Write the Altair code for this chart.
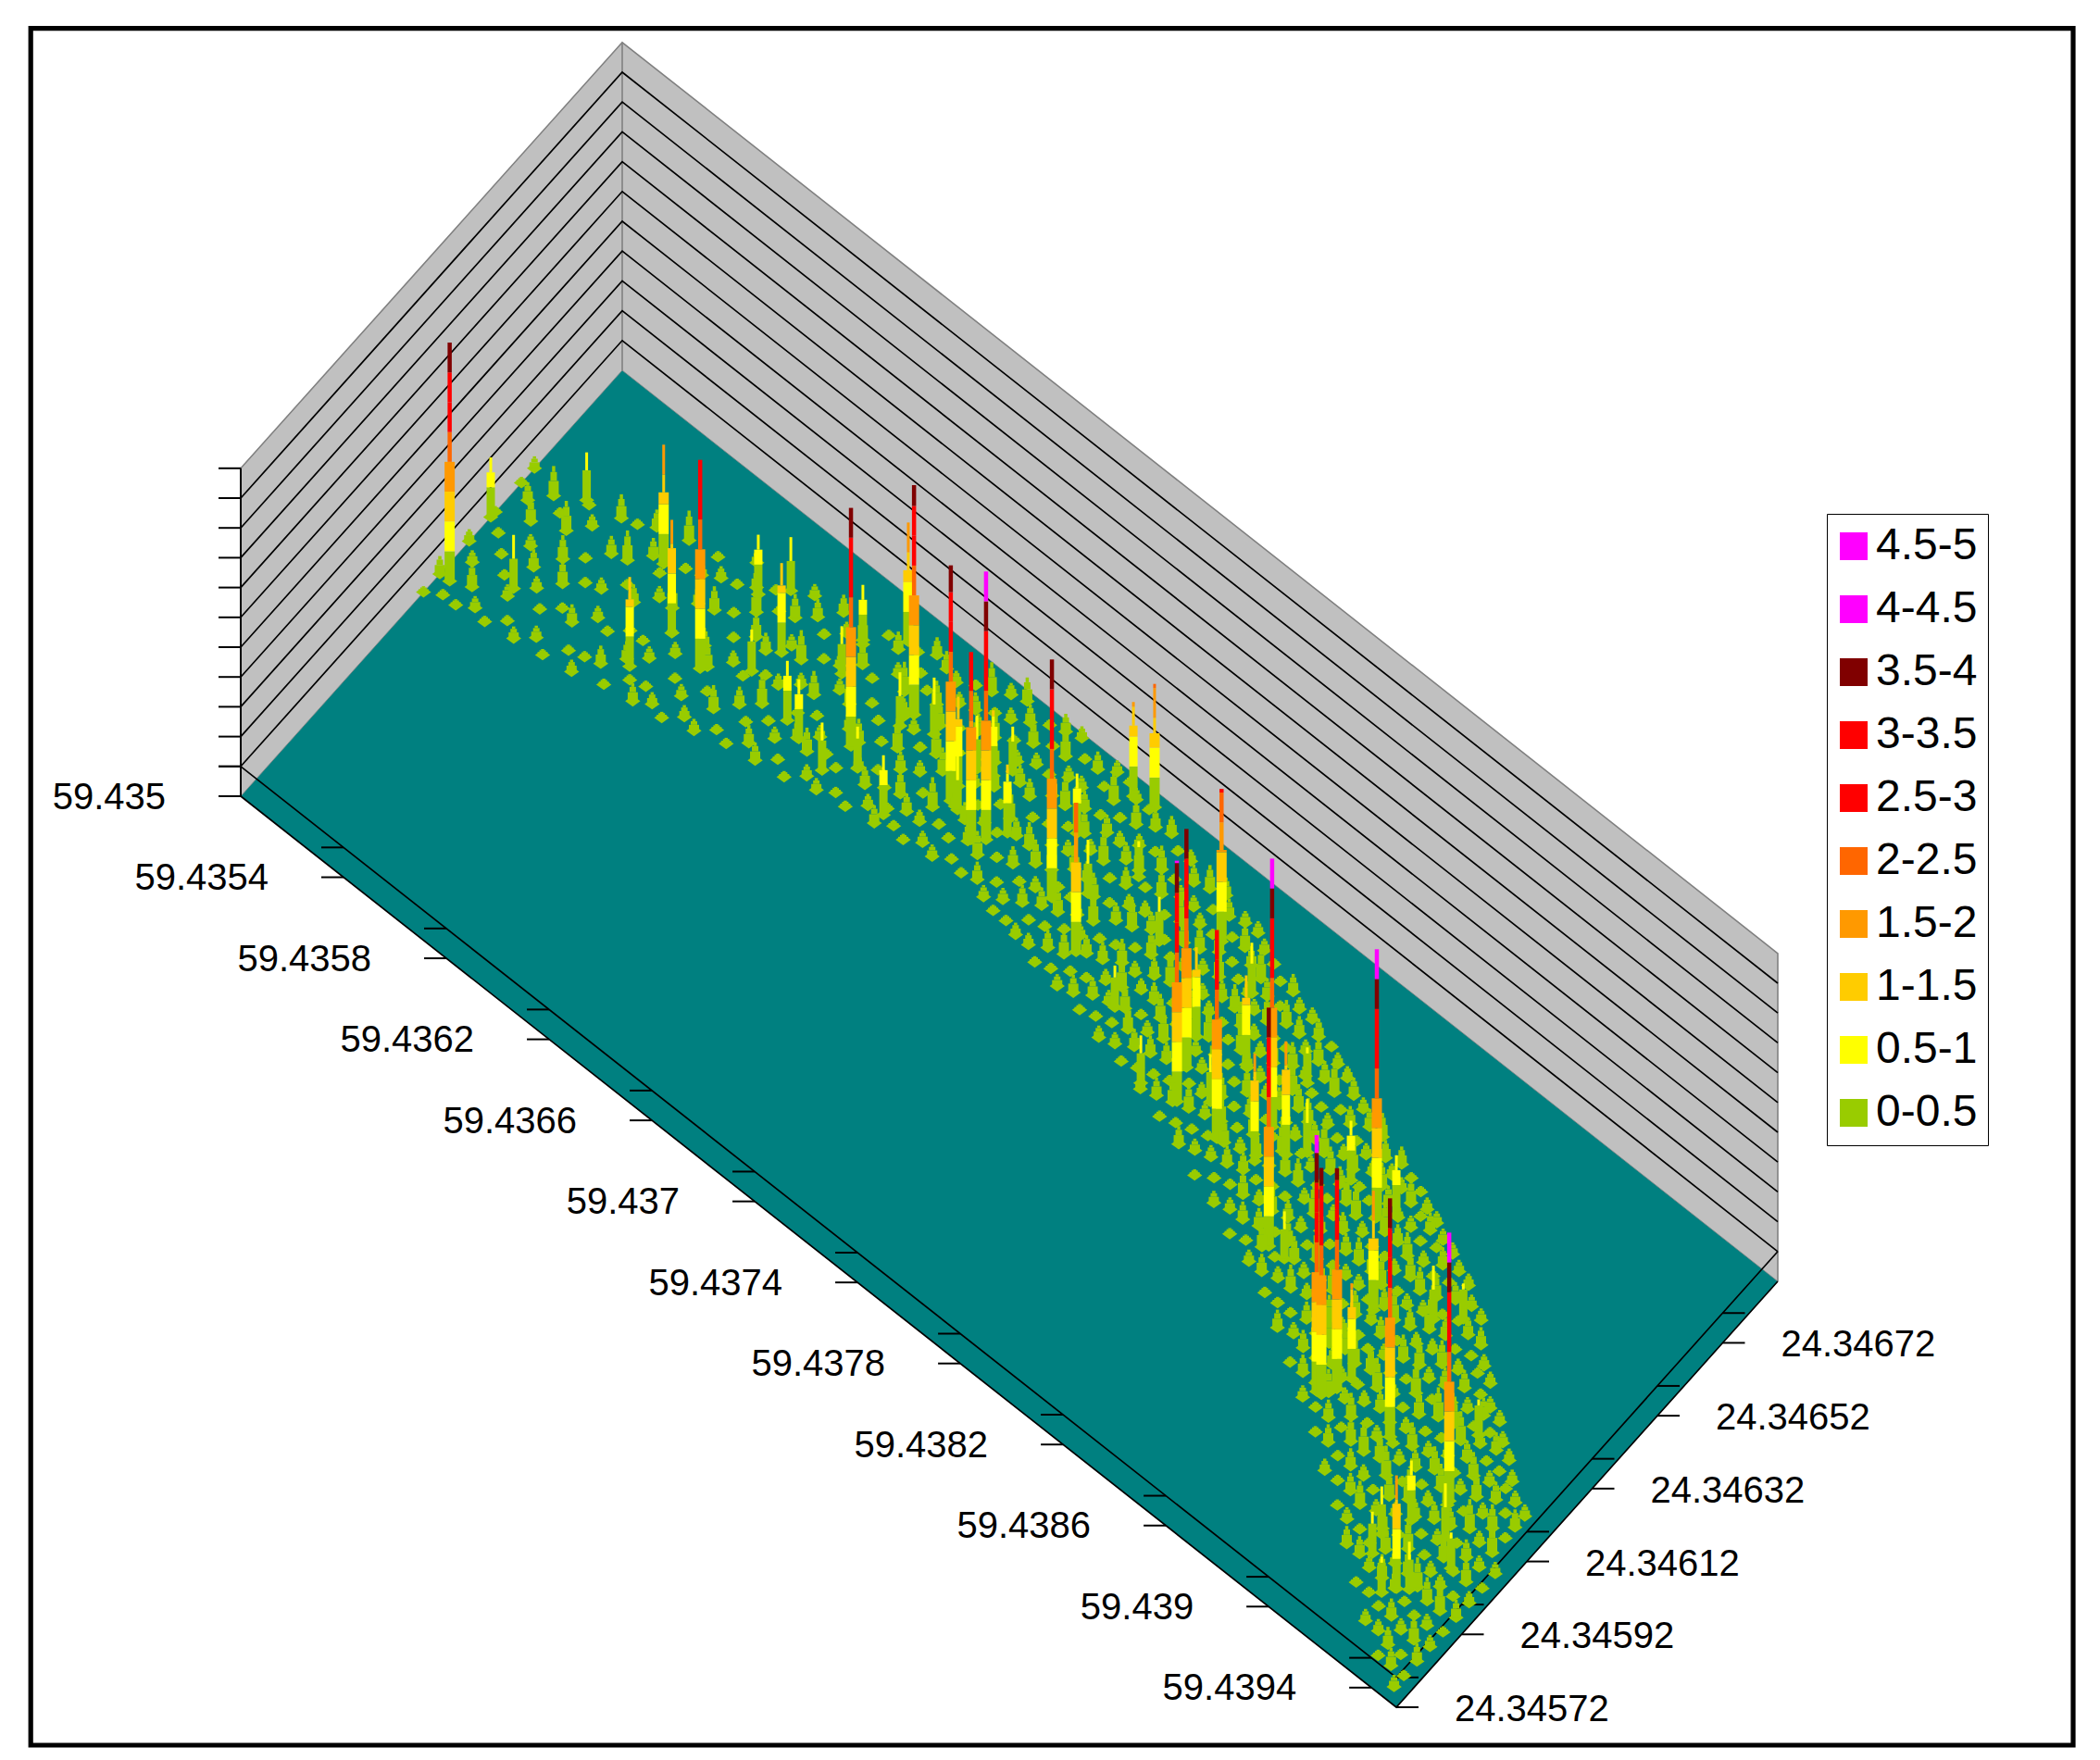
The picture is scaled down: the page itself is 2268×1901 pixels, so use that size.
import altair as alt
import pandas as pd

# ---- axis values
LAT_TICKS = [59.435, 59.4354, 59.4358, 59.4362, 59.4366, 59.437, 59.4374, 59.4378, 59.4382, 59.4386, 59.439, 59.4394]
LAT_LABELS = ["59.435", "59.4354", "59.4358", "59.4362", "59.4366", "59.437", "59.4374", "59.4378", "59.4382", "59.4386", "59.439", "59.4394"]
LON_TICKS = [24.34572, 24.34592, 24.34612, 24.34632, 24.34652, 24.34672]
LON_LABELS = ["24.34572", "24.34592", "24.34612", "24.34632", "24.34652", "24.34672"]
Z_LEVELS = [0, 0.5, 1, 1.5, 2, 2.5, 3, 3.5, 4, 4.5, 5, 5.5]

# ---- legend classes, top to bottom
BANDS = ["4.5-5", "4-4.5", "3.5-4", "3-3.5", "2.5-3", "2-2.5", "1.5-2", "1-1.5", "0.5-1", "0-0.5"]
BAND_COLORS = ["#FF00FF", "#FF00FF", "#800000", "#FF0000", "#FF0000", "#FF6600", "#FF9900", "#FFCC00", "#FFFF00", "#99CC00"]

# ---- tall readings: latitude above 59.435 (1e-4 deg), longitude above 24.34572 (1e-5 deg), value
spike_lat = [0.37, 0, 4.90, 7.87, 12.90, 13.69, 12.07, 6.22, 6.50, 1.98, 9.40, 7.68, 8.35, 10.92, 11.56, 12.73, 11.09, 11.21, 13.50, 1.84, 9.10,
             15.04, 13.60, 14.55, 16.29, 17.89, 17.55, 16.16, 16.63, 16.75, 16.24, 18.24, 17.10, 20.58, 19.83, 22.23, 21.31, 20.36, 21.07, 22.13, 23.92,
             27.59, 27.11, 26.71, 29.26, 25.34, 27.09, 28.42, 30.28, 32.64, 34.52, 31.16, 30.58, 30.19, 26.39, 24.25, 28.36, 31.61,
             36.70, 36.87, 37.11, 33.17, 36.33, 39.30, 41.96, 34.91, 37.89, 37.24, 42.55, 41.49, 41.10, 41.28, 42.29, 42.86, 43.38, 42.61, 41.29, 38.57, 33.26]
spike_lon = [61.1, 76.6, 91.0, 78.8, 85.4, 98.5, 109.5, 70.2, 80.9, 68.0, 91.7, 98.1, 102.8, 81.5, 80.0, 77.9, 103.3, 95.9, 82.7, 91.5, 84.9,
             78.5, 94.9, 97.9, 89.3, 87.5, 85.6, 92.6, 88.7, 98.7, 97.7, 91.3, 101.9, 86.5, 100.1, 80.9, 91.8, 113.2, 114.1, 100.9, 93.1,
             69.6, 76.3, 82.5, 68.7, 101.0, 96.5, 84.3, 77.6, 58.0, 76.3, 74.9, 69.9, 89.1, 68.0, 76.9, 73.8, 77.9,
             40.7, 40.8, 43.7, 79.0, 61.0, 42.7, 39.9, 79.2, 67.1, 47.2, 19.1, 32.0, 26.0, 21.7, 16.6, 20.6, 29.3, 33.6, 54.2, 70.9, 57.9]
spike_val = [4.0, 1.0, 2.0, 3.5, 4.0, 3.85, 2.0, 1.5, 1.9, 0.9, 1.5, 1.0, 0.9, 1.0, 1.0, 0.8, 1.0, 0.8, 0.7, 0.8, 0.7,
             1.0, 0.9, 0.95, 3.95, 4.5, 3.15, 1.5, 0.9, 1.1, 0.9, 1.15, 0.75, 4.0, 1.0, 2.5, 0.9, 1.58, 2.07, 0.6, 0.75,
             4.04, 4.0, 1.5, 3.5, 2.56, 0.85, 1.5, 4.5, 4.0, 4.5, 1.9, 1.8, 0.6, 0.8, 0.7, 0.8, 0.9,
             4.3, 3.8, 3.7, 1.0, 2.0, 4.0, 4.5, 1.0, 0.9, 1.6, 1.9, 1.0, 0.8, 0.7, 0.6, 0.8, 0.6, 0.9, 0.6, 0.6, 0.8]

# ---- low readings by latitude row: [longitude offset, value]
row_lat = list(range(0, 45))
row_0 = [[56,.1],[61,.3],[70,.2],[78,.1],[86,.1],[90,.2]]
row_1 = [[58,.1],[63,.4],[72,.1],[81,.4],[88,.5]]
row_2 = [[59,.1],[66,.2],[74,.3],[84,.5],[91,.1]]
row_3 = [[60,.2],[68,.1],[75,.4],[82,.1],[93,.4]]
row_4 = [[61,.1],[70,.3],[79,.2],[87,.5],[96,.3]]
row_5 = [[62,.2],[66,.1],[73,.1],[81,.3],[89,.1],[98,.5]]
row_6 = [[64,.1],[71,.3],[76,.1],[85,.5],[94,.2],[99,.1]]
row_7 = [[65,.3],[69,.1],[78,.2],[90,.4],[97,.1],[103,.2]]
row_8 = [[66,.1],[72,.2],[80,.4],[88,.1],[95,.5],[101,.1]]
row_9 = [[68,.2],[74,.4],[83,.1],[90,.3],[99,.4],[105,.2]]
row_10 = [[70,.1],[76,.1],[81,.5],[86,.2],[93,.5],[100,.1],[106,.3]]
row_11 = [[71,.3],[77,.2],[84,.1],[89,.4],[97,.2],[104,.5]]
row_12 = [[72,.1],[79,.4],[83,.2],[92,.5],[99,.1],[107,.3]]
row_13 = [[74,.2],[80,.1],[87,.4],[93,.1],[101,.5],[106,.1],[111,.3]]
row_14 = [[75,.1],[81,.3],[85,.1],[91,.5],[96,.2],[103,.4],[109,.2]]
row_15 = [[76,.3],[80,.1],[84,.4],[90,.2],[95,.5],[102,.1],[107,.3],[112,.5]]
row_16 = [[77,.1],[82,.2],[86,.5],[93,.3],[99,.1],[105,.5],[110,.2],[115,.4]]
row_17 = [[78,.2],[83,.1],[88,.3],[92,.1],[97,.4],[104,.2],[109,.4],[114,.1]]
row_18 = [[79,.1],[84,.4],[90,.1],[94,.5],[100,.3],[106,.1],[111,.5],[116,.2]]
row_19 = [[78,.2],[82,.1],[87,.3],[92,.4],[98,.1],[103,.5],[108,.2],[113,.3]]
row_20 = [[77,.1],[82,.3],[86,.2],[91,.5],[96,.2],[101,.4],[106,.1],[110,.5],[115,.1]]
row_21 = [[76,.2],[81,.1],[85,.4],[89,.1],[94,.3],[99,.5],[104,.2],[109,.4],[113,.1]]
row_22 = [[75,.1],[79,.4],[84,.2],[88,.5],[93,.1],[98,.3],[102,.5],[107,.1],[112,.3]]
row_23 = [[74,.3],[78,.1],[83,.3],[87,.1],[92,.5],[96,.2],[101,.4],[105,.1],[110,.2]]
row_24 = [[73,.1],[77,.2],[81,.5],[85,.2],[90,.4],[94,.1],[99,.5],[103,.2],[108,.4]]
row_25 = [[71,.2],[75,.4],[79,.1],[83,.3],[88,.5],[92,.2],[97,.4],[101,.1],[106,.3]]
row_26 = [[70,.1],[74,.3],[78,.5],[82,.1],[86,.4],[90,.2],[95,.5],[99,.1],[103,.4],[107,.2]]
row_27 = [[68,.3],[72,.1],[76,.4],[80,.2],[84,.5],[88,.1],[92,.4],[96,.2],[100,.5],[104,.1]]
row_28 = [[66,.1],[70,.4],[74,.2],[78,.3],[82,.1],[86,.5],[90,.2],[94,.4],[98,.1],[102,.3]]
row_29 = [[64,.2],[68,.1],[72,.5],[76,.1],[80,.4],[84,.2],[88,.5],[92,.1],[96,.3],[100,.2]]
row_30 = [[62,.1],[66,.3],[70,.2],[74,.5],[78,.1],[82,.3],[86,.5],[90,.2],[94,.4],[98,.1]]
row_31 = [[59,.2],[63,.4],[67,.1],[71,.3],[75,.5],[79,.2],[83,.4],[87,.1],[91,.5],[95,.2]]
row_32 = [[56,.1],[60,.3],[64,.5],[68,.1],[72,.4],[76,.2],[80,.5],[84,.1],[88,.3],[92,.2]]
row_33 = [[53,.3],[57,.1],[61,.4],[65,.2],[69,.5],[73,.1],[77,.3],[81,.5],[85,.2],[90,.4]]
row_34 = [[50,.1],[54,.4],[58,.2],[62,.5],[66,.1],[70,.3],[74,.5],[78,.1],[82,.4],[85,.2],[88,.3]]
row_35 = [[47,.2],[51,.3],[55,.1],[59,.5],[63,.2],[67,.4],[71,.1],[75,.5],[79,.2],[83,.4],[86,.1]]
row_36 = [[42,.3],[46,.1],[50,.5],[54,.2],[58,.4],[62,.1],[66,.5],[70,.2],[74,.4],[78,.1],[81,.3],[83,.2]]
row_37 = [[38,.1],[42,.4],[46,.2],[50,.5],[54,.1],[58,.3],[62,.5],[66,.2],[70,.4],[74,.1],[77,.3],[80,.2]]
row_38 = [[34,.3],[38,.1],[41,.4],[45,.2],[49,.5],[53,.1],[57,.4],[61,.2],[65,.5],[69,.1],[73,.3],[77,.2]]
row_39 = [[29,.1],[33,.3],[37,.5],[41,.2],[45,.4],[49,.1],[53,.5],[57,.2],[61,.4],[65,.1],[69,.3],[73,.2]]
row_40 = [[24,.2],[28,.4],[32,.1],[36,.5],[40,.2],[44,.4],[48,.1],[52,.5],[56,.2],[60,.3],[64,.1],[66,.2]]
row_41 = [[20,.3],[23,.1],[27,.4],[31,.2],[35,.5],[39,.1],[43,.4],[47,.2],[51,.5],[55,.1],[58,.3],[60,.2]]
row_42 = [[15,.1],[19,.4],[23,.2],[27,.5],[31,.1],[35,.3],[39,.5],[43,.2],[47,.4],[51,.1],[54,.3],[56,.2]]
row_43 = [[10,.2],[14,.3],[18,.1],[22,.5],[26,.2],[30,.4],[34,.1],[38,.5],[42,.2],[46,.3],[49,.1],[51,.2]]
row_44 = [[6,.3],[9,.1],[13,.4],[17,.2],[21,.5],[25,.1],[29,.4],[33,.2],[37,.5],[41,.1],[44,.3],[47,.2]]
ROWS = [row_0, row_1, row_2, row_3, row_4, row_5, row_6, row_7, row_8, row_9, row_10, row_11, row_12, row_13, row_14,
        row_15, row_16, row_17, row_18, row_19, row_20, row_21, row_22, row_23, row_24, row_25, row_26, row_27, row_28, row_29,
        row_30, row_31, row_32, row_33, row_34, row_35, row_36, row_37, row_38, row_39, row_40, row_41, row_42, row_43, row_44]

# readings between those rows (latitude offset k + 0.5)
mid_0 = [[58,.1],[67,.2],[75,.1],[84,.3]]
mid_1 = [[60,.2],[69,.1],[77,.2],[86,.1]]
mid_2 = [[62,.1],[71,.2],[79,.4],[88,.2]]
mid_3 = [[63,.2],[71,.1],[78,.1],[86,.3],[94,.1]]
mid_4 = [[65,.1],[74,.2],[83,.1],[91,.3]]
mid_5 = [[67,.3],[76,.1],[85,.2],[93,.1]]
mid_6 = [[68,.1],[74,.2],[81,.1],[89,.3],[96,.2]]
mid_7 = [[67,.2],[74,.1],[83,.3],[92,.1],[99,.3]]
mid_8 = [[69,.2],[76,.1],[84,.2],[91,.4],[98,.1]]
mid_9 = [[71,.1],[78,.3],[86,.1],[94,.2],[102,.3]]
mid_10 = [[73,.3],[79,.1],[89,.2],[96,.1],[103,.2]]
mid_11 = [[74,.1],[80,.3],[86,.1],[93,.2],[100,.4],[108,.1]]
mid_12 = [[75,.2],[81,.1],[88,.3],[95,.1],[103,.2],[109,.1]]
mid_13 = [[76,.1],[83,.2],[90,.1],[97,.3],[104,.1],[110,.3]]
mid_14 = [[78,.2],[83,.1],[88,.3],[94,.1],[100,.4],[106,.2],[111,.1]]
mid_15 = [[78,.1],[82,.3],[87,.1],[93,.4],[98,.1],[104,.3],[109,.1],[114,.2]]
mid_16 = [[79,.2],[84,.1],[89,.3],[95,.2],[101,.4],[107,.1],[112,.3]]
mid_17 = [[80,.1],[85,.3],[90,.2],[95,.1],[101,.3],[106,.2],[111,.1],[115,.3]]
mid_18 = [[80,.3],[86,.1],[92,.3],[97,.1],[103,.4],[108,.2],[113,.1]]
mid_19 = [[77,.1],[80,.2],[85,.1],[90,.4],[95,.2],[100,.1],[105,.3],[111,.1],[115,.2]]
mid_20 = [[76,.2],[80,.1],[84,.3],[89,.1],[94,.4],[99,.2],[104,.3],[108,.1],[113,.2]]
mid_21 = [[74,.1],[78,.3],[83,.1],[87,.2],[92,.4],[97,.1],[102,.3],[106,.2],[111,.3]]
mid_22 = [[73,.2],[77,.1],[82,.3],[86,.1],[91,.3],[95,.2],[100,.1],[105,.4],[110,.1]]
mid_23 = [[72,.1],[76,.3],[80,.2],[85,.4],[89,.1],[94,.3],[98,.1],[103,.2],[107,.3]]
mid_24 = [[70,.2],[74,.1],[78,.4],[83,.2],[87,.3],[92,.1],[96,.4],[101,.2],[105,.1],[109,.3]]
mid_25 = [[69,.1],[73,.3],[77,.2],[81,.4],[85,.1],[90,.3],[94,.2],[99,.4],[103,.1],[107,.2]]
mid_26 = [[67,.2],[71,.1],[75,.3],[79,.1],[83,.4],[88,.2],[92,.3],[97,.1],[101,.3],[105,.2]]
mid_27 = [[65,.1],[69,.4],[74,.1],[78,.2],[82,.3],[86,.1],[90,.4],[94,.2],[98,.3],[102,.1]]
mid_28 = [[63,.3],[67,.1],[71,.2],[76,.4],[80,.1],[84,.3],[88,.2],[92,.1],[96,.4],[100,.2]]
mid_29 = [[60,.1],[65,.2],[69,.4],[73,.1],[77,.3],[82,.2],[86,.1],[90,.4],[94,.2],[98,.3]]
mid_30 = [[58,.2],[63,.1],[67,.3],[71,.4],[76,.1],[80,.2],[84,.4],[88,.1],[92,.3],[96,.2]]
mid_31 = [[55,.1],[59,.3],[64,.2],[68,.1],[72,.4],[77,.1],[81,.3],[85,.2],[89,.1],[93,.3]]
mid_32 = [[53,.2],[57,.4],[61,.1],[65,.3],[70,.2],[74,.1],[78,.4],[82,.2],[86,.1],[90,.3]]
mid_33 = [[50,.1],[54,.2],[59,.4],[63,.1],[67,.3],[71,.2],[75,.4],[79,.1],[83,.2],[87,.3]]
mid_34 = [[46,.3],[50,.1],[55,.2],[59,.4],[63,.1],[67,.3],[72,.2],[76,.1],[80,.3],[84,.2],[87,.1]]
mid_35 = [[42,.1],[46,.3],[50,.2],[54,.4],[58,.1],[63,.2],[67,.4],[71,.1],[75,.3],[79,.2],[82,.1],[84,.2]]
mid_36 = [[38,.2],[42,.1],[47,.3],[51,.4],[55,.1],[59,.2],[63,.3],[67,.1],[71,.4],[75,.2],[79,.1],[81,.2]]
mid_37 = [[34,.1],[38,.3],[43,.2],[47,.1],[51,.4],[55,.2],[59,.1],[63,.3],[67,.2],[71,.4],[75,.1],[78,.2]]
mid_38 = [[29,.2],[33,.1],[37,.4],[42,.1],[46,.3],[50,.2],[54,.1],[58,.4],[62,.2],[66,.3],[70,.1],[74,.2]]
mid_39 = [[25,.1],[29,.3],[33,.2],[38,.4],[42,.1],[46,.2],[50,.4],[54,.1],[58,.3],[62,.2],[66,.1],[69,.3]]
mid_40 = [[20,.3],[24,.1],[29,.2],[33,.4],[37,.1],[41,.3],[45,.2],[49,.1],[53,.4],[57,.2],[61,.1],[64,.2]]
mid_41 = [[15,.1],[19,.2],[24,.4],[28,.1],[33,.3],[37,.2],[41,.4],[45,.1],[49,.3],[53,.2],[56,.1],[59,.2]]
mid_42 = [[10,.2],[14,.1],[19,.3],[23,.4],[28,.1],[32,.2],[36,.3],[40,.1],[44,.4],[48,.2],[51,.1],[54,.2]]
mid_43 = [[6,.1],[9,.3],[13,.2],[17,.1],[21,.4],[25,.2],[29,.1],[33,.3],[37,.2],[41,.4],[45,.1],[48,.2]]
mid_44 = [[3,.2],[6,.1],[10,.3],[14,.2],[18,.1],[22,.3],[26,.2],[30,.1],[34,.2]]
MIDS = [mid_0, mid_1, mid_2, mid_3, mid_4, mid_5, mid_6, mid_7, mid_8, mid_9, mid_10, mid_11, mid_12, mid_13, mid_14,
        mid_15, mid_16, mid_17, mid_18, mid_19, mid_20, mid_21, mid_22, mid_23, mid_24, mid_25, mid_26, mid_27, mid_28, mid_29,
        mid_30, mid_31, mid_32, mid_33, mid_34, mid_35, mid_36, mid_37, mid_38, mid_39, mid_40, mid_41, mid_42, mid_43, mid_44]

# ---- oblique projection of the box
LAT0, LAT_SPAN = 59.435, 0.0044968
LON0, LON_SPAN = 24.34572, 0.0011688
LAT1, LON1 = LAT0 + LAT_SPAN, LON0 + LON_SPAN
ORIGIN = (260.0, 860.0)
LAT_VEC = (1248.0, 984.0)
LON_VEC = (412.0, -460.0)
Z_UNIT = 64.4


def project(lat, lon, z=0.0):
    u = (lat - LAT0) / LAT_SPAN
    v = (lon - LON0) / LON_SPAN
    return (ORIGIN[0] + LAT_VEC[0] * u + LON_VEC[0] * v,
            ORIGIN[1] + LAT_VEC[1] * u + LON_VEC[1] * v - Z_UNIT * z)


X = alt.Scale(domain=[8, 2260], range=[0, 2252], nice=False, zero=False)
Y = alt.Scale(domain=[8, 1893], range=[0, 1885], nice=False, zero=False)
xq = lambda f="x": alt.X(f"{f}:Q", scale=X, axis=None)
yq = lambda f="y": alt.Y(f"{f}:Q", scale=Y, axis=None, stack=None)
x2q = lambda f="x2": alt.X2(f"{f}:Q")
y2q = lambda f="y2": alt.Y2(f"{f}:Q")


def area_rows(stations):
    rows = []
    for top, bottom in stations:
        (x, y), (_, y2) = project(*top), project(*bottom)
        rows.append({"x": x, "y": y, "y2": y2})
    return pd.DataFrame(rows)


def polyline(points, group=0):
    rows = []
    for i, p in enumerate(points):
        x, y = project(*p)
        rows.append({"x": x, "y": y, "i": i, "g": group})
    return rows


ZMAX = Z_LEVELS[-1]
left_wall = area_rows([((LAT0, LON0, ZMAX), (LAT0, LON0, 0)), ((LAT0, LON1, ZMAX), (LAT0, LON1, 0))])
right_wall = area_rows([((LAT0, LON1, ZMAX), (LAT0, LON1, 0)), ((LAT1, LON1, ZMAX), (LAT1, LON1, 0))])
# floor as an area between its upper and lower outlines
fx_back = LON_VEC[0] / LAT_VEC[0] * LAT_SPAN
fx_front = (LAT_VEC[0] - LON_VEC[0]) / LAT_VEC[0] * LAT_SPAN
floor = area_rows([
    ((LAT0, LON0), (LAT0, LON0)),
    ((LAT0, LON1), (LAT0 + fx_back, LON0)),
    ((LAT0 + fx_front, LON1), (LAT1, LON0)),
    ((LAT1, LON1), (LAT1, LON1)),
])

layers = []
wall_fill = "#C0C0C0"
layers.append(alt.Chart(left_wall).mark_area(color=wall_fill, opacity=1).encode(x=xq(), y=yq(), y2=y2q()))
layers.append(alt.Chart(right_wall).mark_area(color=wall_fill, opacity=1).encode(x=xq(), y=yq(), y2=y2q()))

# wall outlines
outline = []
outline += polyline([(LAT0, LON0, 0), (LAT0, LON0, ZMAX), (LAT0, LON1, ZMAX), (LAT1, LON1, ZMAX), (LAT1, LON1, 0)], 0)
outline += polyline([(LAT0, LON1, 0), (LAT0, LON1, ZMAX)], 1)
layers.append(alt.Chart(pd.DataFrame(outline)).mark_line(color="#808080", strokeWidth=1.6).encode(
    x=xq(), y=yq(), detail="g:N", order="i:Q"))

# wall gridlines
grid = []
for k, z in enumerate(Z_LEVELS[1:-1]):
    grid += polyline([(LAT0, LON0, z), (LAT0, LON1, z), (LAT1, LON1, z)], k)
layers.append(alt.Chart(pd.DataFrame(grid)).mark_line(color="#000000", strokeWidth=1.7).encode(
    x=xq(), y=yq(), detail="g:N", order="i:Q"))

layers.append(alt.Chart(floor).mark_area(color="#008080", opacity=1, line={"color": "#808080", "strokeWidth": 0.8}).encode(
    x=xq(), y=yq(), y2=y2q()))

# lines along the two front edges
edges = []
edges += polyline([(LAT0, LON0, 0), (LAT1, LON0, 0), (LAT1, LON1, 0)], 0)
edges += polyline([(LAT0, LON0, Z_LEVELS[1]), (LAT1, LON0, Z_LEVELS[1]), (LAT1, LON1, Z_LEVELS[1])], 1)
layers.append(alt.Chart(pd.DataFrame(edges)).mark_line(color="#000000", strokeWidth=1.7).encode(
    x=xq(), y=yq(), detail="g:N", order="i:Q"))

# ticks
TICK = 24
ticks = []
for z in Z_LEVELS:
    x, y = project(LAT0, LON0, z)
    ticks.append({"x": x - TICK, "x2": x, "y": y})
for lat in LAT_TICKS:
    for z in Z_LEVELS[:2]:
        x, y = project(lat, LON0, z)
        ticks.append({"x": x - TICK, "x2": x, "y": y})
for lon in LON_TICKS:
    for z in Z_LEVELS[:2]:
        x, y = project(LAT1, lon, z)
        ticks.append({"x": x, "x2": x + TICK, "y": y})
layers.append(alt.Chart(pd.DataFrame(ticks)).mark_rule(color="#000000", strokeWidth=2).encode(
    x=xq(), x2=x2q(), y=yq()))

# vertical axis
vx, vy = project(LAT0, LON0, 0)
_, vy2 = project(LAT0, LON0, ZMAX)
layers.append(alt.Chart(pd.DataFrame([{"x": vx, "y": vy, "y2": vy2}])).mark_rule(color="#000000", strokeWidth=2).encode(
    x=xq(), y=yq(), y2=y2q()))

# all readings
points = []
for la, lo, v in zip(spike_lat, spike_lon, spike_val):
    points.append((LAT0 + la * 1e-4, LON0 + lo * 1e-5, v))
for la, row, mid in zip(row_lat, ROWS, MIDS):
    for lo, v in row:
        points.append((LAT0 + la * 1e-4, LON0 + lo * 1e-5, v))
    for lo, v in mid:
        points.append((LAT0 + (la + .5) * 1e-4, LON0 + lo * 1e-5, v))

base = []
for lat, lon, v in points:
    x, y = project(lat, lon, 0)
    base.append({"x": x, "y": y, "band": "0-0.5", "v": v})
base = pd.DataFrame(base).sort_values("y")


def cuts(top):
    """Width breaks of a column: (from value, to value, width)."""
    if top <= 0.5:
        return [(0, top * .5, 11), (top * .5, top * .8, 7), (top * .8, top, 3.5)]
    if top >= 3.5:
        wide = 2.0
    elif top >= 2:
        wide = top * .6
    elif top >= 1:
        wide = top * .75
    else:
        wide = 0.5
    narrow_w = 4.5 if top >= 2.5 else 3
    wide_w = 11 if top >= 2 else 9
    return [(0, wide, wide_w), (wide, top, narrow_w)]


segs = []
for lat, lon, v in sorted(points, key=lambda p: project(p[0], p[1])[1]):
    x, y0 = project(lat, lon, 0)
    for lo_z, hi_z, w in cuts(v):
        for b, name in enumerate(reversed(BANDS)):
            a = max(lo_z, b * .5)
            c = min(hi_z, (b + 1) * .5)
            if c > a:
                segs.append({"x": x, "y": y0 - Z_UNIT * a, "y2": y0 - Z_UNIT * c, "band": name, "w": w})
segs = pd.DataFrame(segs)

color = alt.Scale(domain=BANDS, range=BAND_COLORS)
layers.append(alt.Chart(base).mark_point(shape="M -1 0 L 0 -0.72 L 1 0 L 0 0.72 Z", filled=True, size=270, opacity=1, strokeWidth=0).encode(
    x=xq(), y=yq(),
    fill=alt.Fill("band:N", scale=color, legend=alt.Legend(
        title=None, orient="none", legendX=1965, legendY=547, symbolType="square", symbolSize=900,
        symbolStrokeWidth=0, symbolOffset=-6, labelFontSize=48, labelFont="Liberation Sans", labelColor="#000000",
        labelOffset=0, rowPadding=20, padding=11, strokeColor="#000000", fillColor="#FFFFFF",
        direction="vertical", columns=1, symbolOpacity=1, labelLimit=300))))
layers.append(alt.Chart(segs).mark_rule().encode(
    x=xq(), y=yq(), y2=y2q(),
    stroke=alt.Stroke("band:N", scale=color, legend=None),
    strokeWidth=alt.StrokeWidth("w:Q", scale=None)))

# axis labels
labels_lat = []
for lat, txt in zip(LAT_TICKS, LAT_LABELS):
    x, y = project(lat, LON0, 0)
    labels_lat.append({"x": x - TICK - 57, "y": y + 1.5, "t": txt})
labels_lon = []
for lon, txt in zip(LON_TICKS, LON_LABELS):
    x, y = project(LAT1, lon, 0)
    labels_lon.append({"x": x + TICK + 39, "y": y + 3, "t": txt})
for rows, al in ((labels_lat, "right"), (labels_lon, "left")):
    layers.append(alt.Chart(pd.DataFrame(rows)).mark_text(
        align=al, baseline="middle", font="Liberation Sans", fontSize=40, color="#000000").encode(
        x=xq(), y=yq(), text="t:N"))

# outer frame
layers.append(alt.Chart(pd.DataFrame([{"a": 0}])).mark_rect(fill=None, stroke="#000000", strokeWidth=5.2).encode(
    x=alt.value(25.2), x2=alt.value(2231), y=alt.value(22.6), y2=alt.value(1877)))

chart = alt.layer(*layers).resolve_scale(color="shared").properties(
    width=2252, height=1885, padding=0, autosize="none",
    background="#FFFFFF"
).configure_view(stroke=None)

chart.save("out.html", embed_options={"renderer": "svg", "actions": False})
